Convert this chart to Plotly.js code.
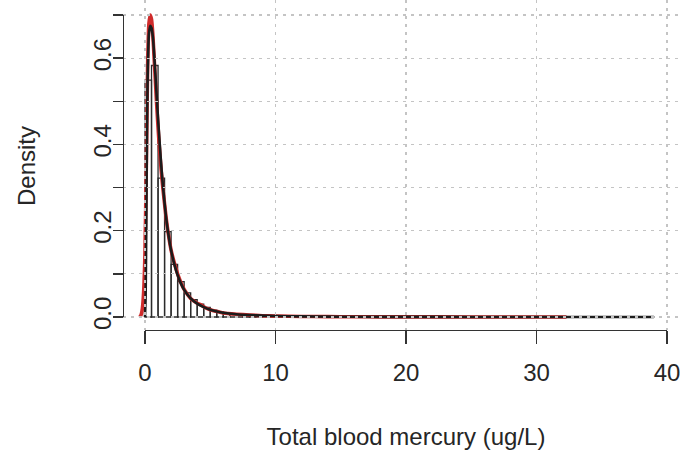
<!DOCTYPE html>
<html>
<head>
<meta charset="utf-8">
<script src="https://cdn.plot.ly/plotly-3.0.1.min.js"></script>
<style>html,body{margin:0;padding:0;background:#fff;}#chart{width:680px;height:454px;}</style>
</head>
<body>
<div id="chart"></div>
<script>
// Histogram of total blood mercury (density scale), bin width 0.5 ug/L, bins from 0 to 39
const binWidth = 0.5;
const histDensity = [
  0.549, 0.583, 0.322, 0.198, 0.122, 0.082, 0.056, 0.040, 0.030, 0.022,
  0.016, 0.012, 0.009, 0.007, 0.0055, 0.0045, 0.0036, 0.0030, 0.0025, 0.0020,
  0.0017, 0.0015, 0.0013, 0.0011, 0.0010, 0.0009, 0.0008, 0.0007, 0.0006, 0.0005,
  0.0005, 0.0004, 0.0004, 0.0003, 0.0003, 0.0003, 0.0002, 0.0002, 0.0002, 0.0002,
  0.0001, 0.0001, 0.0001, 0.0001, 0.0001, 0.0001, 0.0001, 0.0001, 0.0001, 0.0001,
  0.0001, 0.0001, 0.0, 0.0001, 0.0, 0.0, 0.0001, 0.0, 0.0, 0.0,
  0.0001, 0.0, 0.0, 0.0, 0.0, 0.0, 0.0, 0.0, 0.0, 0.0,
  0.0, 0.0, 0.0, 0.0, 0.0, 0.0, 0.0, 0.0001
];

// Kernel density estimate (red)
const kdeX = [-0.4, -0.3, -0.2, -0.1, 0, 0.1, 0.2, 0.3, 0.4, 0.5, 0.6, 0.7, 0.8, 0.9, 1.0, 1.1, 1.2, 1.3, 1.4, 1.6, 1.8, 2.0, 2.25, 2.5, 2.75, 3.0, 3.5, 4.0, 4.3, 4.6, 5.0, 5.5, 6.0, 7.0, 8.0, 9.0, 10, 12, 14, 16, 18, 20, 25, 30, 32.3];
const kdeY = [0, 0.005, 0.02, 0.06, 0.15, 0.35, 0.58, 0.68, 0.70, 0.69, 0.655, 0.60, 0.545, 0.49, 0.44, 0.395, 0.355, 0.32, 0.29, 0.235, 0.19, 0.155, 0.125, 0.10, 0.08, 0.064, 0.043, 0.032, 0.028, 0.022, 0.017, 0.013, 0.0095, 0.0065, 0.0045, 0.003, 0.0022, 0.0013, 0.0009, 0.0006, 0.0004, 0.0003, 0.0002, 0.0001, 0];

// Fitted density (black)
const fitX = [0, 0.05, 0.1, 0.15, 0.2, 0.25, 0.3, 0.4, 0.5, 0.6, 0.7, 0.8, 0.9, 1.0, 1.1, 1.2, 1.3, 1.4, 1.6, 1.8, 2.0, 2.25, 2.5, 2.75, 3.0, 3.5, 4.0, 4.5, 5, 5.5, 6, 7, 8, 9, 10, 12, 14, 16, 20, 25, 30, 35, 39];
const fitY = [0, 0.05, 0.22, 0.42, 0.55, 0.62, 0.655, 0.675, 0.67, 0.65, 0.61, 0.56, 0.51, 0.46, 0.415, 0.37, 0.33, 0.295, 0.235, 0.19, 0.155, 0.122, 0.097, 0.078, 0.063, 0.043, 0.031, 0.023, 0.017, 0.013, 0.010, 0.0065, 0.0045, 0.0032, 0.0024, 0.0014, 0.0009, 0.0006, 0.0003, 0.00015, 0.0001, 0.00005, 0.00003];

const xTicks = [0, 10, 20, 30, 40];
const xTickText = ['0', '10', '20', '30', '40'];
const yTicks = [0, 0.1, 0.2, 0.3, 0.4, 0.5, 0.6, 0.7];
const yTickText = ['0.0', '', '0.2', '', '0.4', '', '0.6', ''];

const binCenters = histDensity.map((_, i) => (i + 0.5) * binWidth);

const FONT = 'Liberation Sans, Arial, Helvetica, sans-serif';
const INK = '#262626';
const dataXRange = [-1.686, 41.0];
const dataYRange = [-0.0301, 0.7348];

const traces = [
  {
    type: 'bar', x: binCenters, y: histDensity, width: binWidth,
    marker: {color: 'rgba(255,255,255,0)', line: {color: '#2b2b2b', width: 1.3}},
    hoverinfo: 'skip', xaxis: 'x', yaxis: 'y'
  },
  {
    type: 'scatter', mode: 'lines', x: kdeX, y: kdeY,
    line: {color: '#cf2b2b', width: 3.6, shape: 'spline', smoothing: 0.6},
    hoverinfo: 'skip', xaxis: 'x', yaxis: 'y'
  },
  {
    type: 'scatter', mode: 'lines', x: fitX, y: fitY,
    line: {color: '#1c1c1c', width: 2.6, shape: 'spline', smoothing: 0.6},
    hoverinfo: 'skip', xaxis: 'x', yaxis: 'y'
  },
  // grid subplot (drawn above the data, as in the original)
  {type: 'scatter', mode: 'markers', x: [0], y: [0], marker: {opacity: 0}, hoverinfo: 'skip', xaxis: 'x2', yaxis: 'y2'},
  // axis subplots
  {type: 'scatter', mode: 'markers', x: [0], y: [0], marker: {opacity: 0}, hoverinfo: 'skip', xaxis: 'x3', yaxis: 'y3'},
  {type: 'scatter', mode: 'markers', x: [0], y: [0], marker: {opacity: 0}, hoverinfo: 'skip', xaxis: 'x3', yaxis: 'y4'}
];

const plotW = 680 - 123, plotH = 330;
const yDom = [(330 - 317) / plotH, (330 - 15) / plotH];
const layout = {
  width: 680, height: 454,
  margin: {l: 123, r: 0, t: 0, b: 124, pad: 0},
  paper_bgcolor: '#ffffff', plot_bgcolor: 'rgba(0,0,0,0)',
  showlegend: false, bargap: 0,
  font: {family: FONT, size: 24, color: INK},
  xaxis: {domain: [0, 1], range: dataXRange, visible: false, fixedrange: true},
  yaxis: {domain: [0, 1], range: dataYRange, visible: false, fixedrange: true},
  xaxis2: {domain: [0, 1], range: dataXRange, anchor: 'y2', showgrid: true, tick0: 0, dtick: 10,
           gridcolor: '#c4c4c4', gridwidth: 1.2, griddash: '3px,5px', showticklabels: false, ticks: '',
           zeroline: false, showline: false, fixedrange: true},
  yaxis2: {domain: [0, 1], range: dataYRange, anchor: 'x2', showgrid: true, tick0: 0, dtick: 0.1,
           gridcolor: '#c4c4c4', gridwidth: 1.2, griddash: '3px,5px', showticklabels: false, ticks: '',
           zeroline: false, showline: false, fixedrange: true},
  xaxis3: {domain: [(145 - 123) / plotW, (667 - 123) / plotW], range: [0, 40], anchor: 'free', position: 0,
           showline: true, linecolor: '#333', linewidth: 1.3, ticks: 'outside', ticklen: 13, tickwidth: 1.3,
           tickcolor: '#333', tickvals: xTicks, ticktext: xTickText, showgrid: false, zeroline: false,
           ticklabelstandoff: 8, ticklabeloverflow: 'allow', tickfont: {family: FONT, size: 24, color: INK},
           title: {text: 'Total blood mercury (ug/L)', font: {family: FONT, size: 24, color: INK}, standoff: 43},
           fixedrange: true},
  // y tick labels and title
  yaxis3: {domain: yDom, range: [0, 0.7], anchor: 'free', position: 0,
           showline: false, ticks: 'outside', ticklen: 2, tickcolor: 'rgba(0,0,0,0)',
           tickvals: yTicks, ticktext: yTickText, tickangle: -90, showgrid: false, zeroline: false,
           ticklabeloverflow: 'allow', tickfont: {family: FONT, size: 24, color: INK},
           title: {text: 'Density', font: {family: FONT, size: 24, color: INK}, standoff: 46},
           fixedrange: true},
  // y axis line and tick marks
  yaxis4: {domain: yDom, range: [0, 0.7], anchor: 'free', position: 0,
           showline: true, linecolor: '#333', linewidth: 1.3, ticks: 'outside', ticklen: 10, tickwidth: 1.3,
           tickcolor: '#333', tickvals: yTicks, showticklabels: false, showgrid: false, zeroline: false,
           fixedrange: true}
};

Plotly.newPlot('chart', traces, layout, {staticPlot: true, displayModeBar: false});
</script>
</body>
</html>
